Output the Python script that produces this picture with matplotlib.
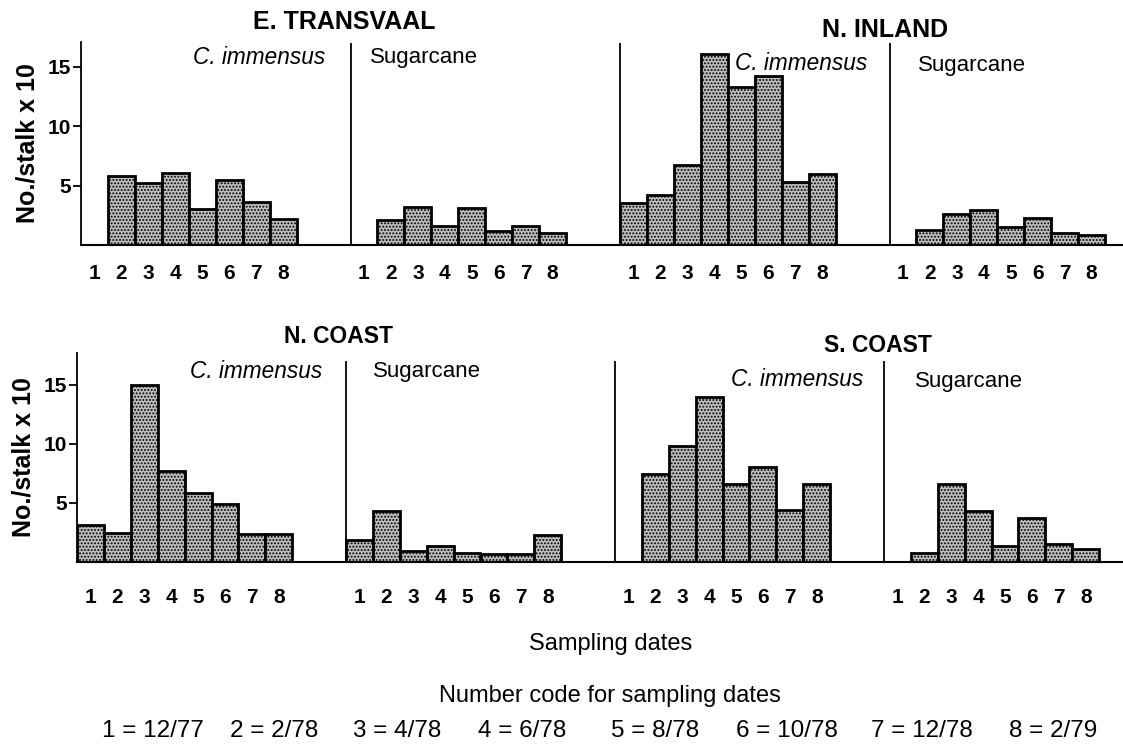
import numpy as np
import matplotlib
matplotlib.use("Agg")
import matplotlib.pyplot as plt

plt.rcParams['font.family'] = ['Liberation Sans', 'DejaVu Sans']
plt.rcParams['hatch.linewidth'] = 0.9
plt.rcParams['hatch.color'] = 'black'

# sampling date codes 1..8
codes = [1, 2, 3, 4, 5, 6, 7, 8]
date_labels = ["12/77", "2/78", "4/78", "6/78", "8/78", "10/78", "12/78", "2/79"]

# No./stalk x 10
e_transvaal_imm = [0, 5.8, 5.2, 6.1, 3.0, 5.5, 3.6, 2.2]
e_transvaal_cane = [0, 2.1, 3.2, 1.6, 3.1, 1.2, 1.6, 1.0]
n_inland_imm = [3.5, 4.2, 6.7, 16.1, 13.3, 14.2, 5.3, 6.0]
n_inland_cane = [0, 1.3, 2.6, 2.95, 1.5, 2.25, 1.0, 0.85]
n_coast_imm = [3.1, 2.45, 15.0, 7.65, 5.8, 4.9, 2.3, 2.3]
n_coast_cane = [1.8, 4.25, 0.9, 1.3, 0.7, 0.6, 0.6, 2.25]
s_coast_imm = [0, 7.4, 9.8, 14.0, 6.6, 8.0, 4.4, 6.6]
s_coast_cane = [0, 0.75, 6.6, 4.3, 1.3, 3.7, 1.5, 1.05]

rows = [
    [("E. TRANSVAAL", e_transvaal_imm, e_transvaal_cane),
     ("N. INLAND", n_inland_imm, n_inland_cane)],
    [("N. COAST", n_coast_imm, n_coast_cane),
     ("S. COAST", s_coast_imm, s_coast_cane)],
]

W, H = 1123, 755
fig = plt.figure(figsize=(W / 100, H / 100), dpi=100)


def fx(x):
    return x / W


def fy(y):
    return 1 - y / H


# axes boxes in pixels: left, zero line, top, y top value, px per bar
row_boxes = [(81, 245, 42, 17.1, 26.95), (77, 561.5, 353, 17.7, 26.9)]
bar_kw = dict(width=1.0, facecolor='#bcbcbc', edgecolor='black',
              linewidth=2.0, hatch='.....', align='center')

for r, (left, zero, top, ytop, ppu) in enumerate(row_boxes):
    ax = fig.add_axes([fx(left), fy(zero), fx(W - left), (zero - top) / H])
    xt, xl = [], []
    for g, (region, imm, cane) in enumerate(rows[r]):
        for k, vals in enumerate([imm, cane]):
            off = (2 * g + k) * 10
            pos = [off + c for c in codes]
            ax.bar(pos, vals, **bar_kw)
            xt += pos
            xl += [str(c) for c in codes]
            if off > 0:
                ax.vlines(off + 0.5, 0, 17.0, color='black', linewidth=1.3)
    ax.set_xlim(0.5, 0.5 + (W - left) / ppu)
    ax.set_ylim(0, ytop)
    ax.set_xticks(xt)
    ax.set_xticklabels(xl, fontsize=15, fontweight='bold')
    ax.tick_params(axis='x', length=0, pad=14 if r == 0 else 19)
    ax.set_yticks([5, 10, 15])
    ax.set_yticklabels(['5', '10', '15'], fontsize=15, fontweight='bold')
    ax.tick_params(axis='y', length=6, width=1.3, pad=1)
    for s in ['top', 'right']:
        ax.spines[s].set_visible(False)
    ax.spines['left'].set_linewidth(1.3)
    ax.spines['bottom'].set_linewidth(1.5)
    ax.set_ylabel("No./stalk x 10", fontsize=18, fontweight='bold', labelpad=6)

# region and panel labels (pixel positions)
titles = [("E. TRANSVAAL", 344, 22, 18), ("N. INLAND", 885, 30, 18),
          ("N. COAST", 339, 337, 16.5), ("S. COAST", 878, 345, 16.5)]
for t, x, y, fs in titles:
    fig.text(fx(x), fy(y), t, ha='center', va='center', fontsize=fs, fontweight='bold')

imm_pos = [(325, 57), (867, 63), (322, 372), (863, 380)]
cane_pos = [(370, 57), (918, 66), (373, 372), (915, 382)]
for (x, y) in imm_pos:
    fig.text(fx(x), fy(y), "C. immensus", ha='right', va='center', fontsize=16.3, style='italic')
for (x, y) in cane_pos:
    fig.text(fx(x), fy(y), "Sugarcane", ha='left', va='center', fontsize=16)

fig.text(fx(611), fy(644), "Sampling dates", ha='center', va='center', fontsize=17)
fig.text(fx(610), fy(696), "Number code for sampling dates", ha='center', va='center', fontsize=17)
code_x = [153, 274, 397, 522, 655, 787, 922, 1053]
for c, d, x in zip(codes, date_labels, code_x):
    fig.text(fx(x), fy(731), f"{c} = {d}", ha='center', va='center', fontsize=17.5)

fig.savefig("out.png", dpi=100)
